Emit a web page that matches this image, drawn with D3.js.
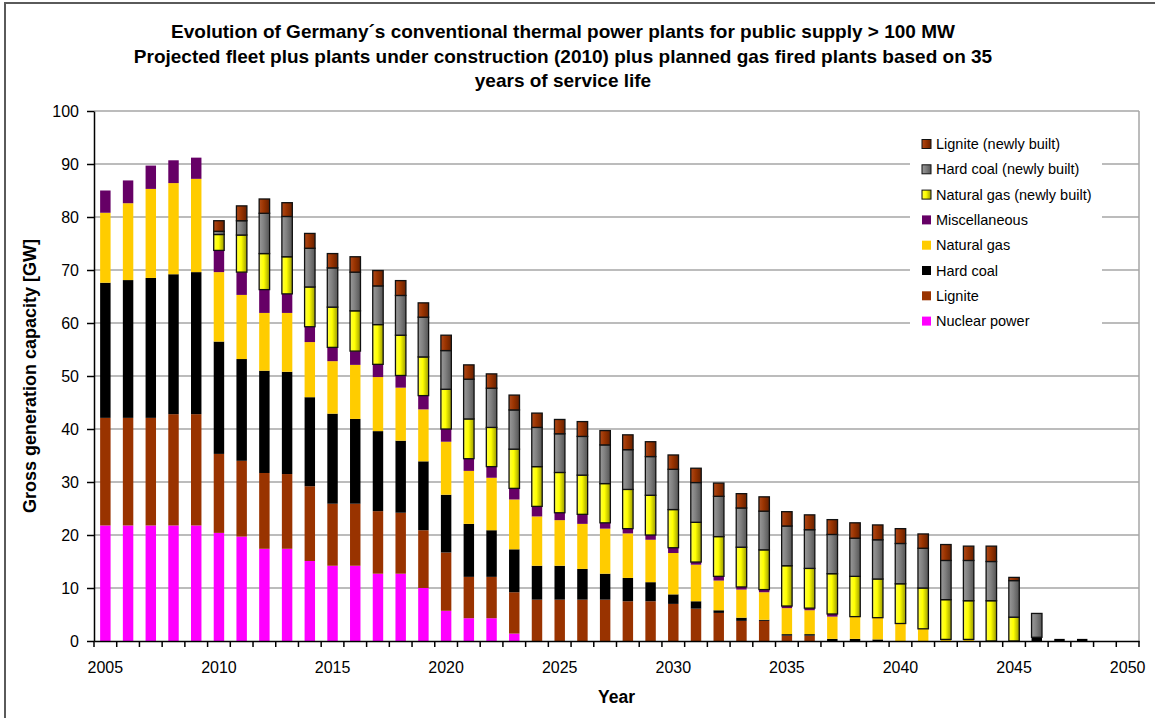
<!DOCTYPE html>
<html>
<head>
<meta charset="utf-8">
<script src="https://cdn.jsdelivr.net/npm/d3@7"></script>
<style>
  body { margin: 0; background: #fff; }
  text { font-family: "Liberation Sans", Arial, sans-serif; fill: #000; }
</style>
</head>
<body>
<div id="chart"></div>
<script>
// years on the category axis
const years = d3.range(2005, 2051);

// capacities in GW, one value per year 2005..2050
const nuclear = [21.8, 21.8, 21.8, 21.8, 21.8, 20.4, 19.7, 17.4, 17.4, 15.1, 14.2, 14.2, 12.7, 12.7, 10.0, 5.7, 4.3, 4.3, 1.4, 0,
  0, 0, 0, 0, 0, 0, 0, 0, 0, 0, 0, 0, 0, 0, 0, 0, 0, 0, 0, 0, 0, 0, 0, 0, 0, 0];
const lignite = [20.3, 20.3, 20.3, 21.0, 21.0, 14.9, 14.3, 14.3, 14.1, 14.1, 11.7, 11.7, 11.8, 11.5, 10.9, 11.0, 7.8, 7.8, 7.8, 7.8,
  7.8, 7.8, 7.8, 7.5, 7.5, 7.0, 6.1, 5.3, 3.8, 3.8, 1.0, 1.0, 0, 0, 0, 0, 0, 0, 0, 0, 0, 0, 0, 0, 0, 0];
const hardCoal = [25.5, 26.0, 26.4, 26.4, 26.8, 21.2, 19.2, 19.3, 19.3, 16.8, 17.0, 16.0, 15.1, 13.6, 13.0, 10.9, 10.0, 8.8, 8.1, 6.4,
  6.4, 5.8, 4.9, 4.4, 3.6, 1.8, 1.4, 0.5, 0.6, 0.2, 0.3, 0.3, 0.4, 0.4, 0.3, 0, 0, 0, 0, 0, 0, 0.7, 0.4, 0.4, 0, 0];
const naturalGas = [13.2, 14.5, 16.8, 17.2, 17.6, 13.1, 12.1, 10.9, 11.1, 10.4, 9.9, 10.2, 10.2, 10.0, 9.8, 10.0, 10.0, 9.9, 9.4, 9.3,
  8.6, 8.5, 8.5, 8.4, 8.0, 7.8, 6.9, 5.6, 5.3, 5.2, 4.9, 4.5, 4.2, 4.2, 4.1, 3.3, 2.3, 0.3, 0.3, 0, 0, 0, 0, 0, 0, 0];
const misc = [4.2, 4.3, 4.4, 4.3, 4.0, 4.1, 4.3, 4.4, 3.6, 2.9, 2.6, 2.6, 2.4, 2.3, 2.6, 2.4, 2.3, 2.1, 2.1, 1.9,
  1.4, 1.8, 1.1, 0.9, 0.9, 1.0, 0.5, 0.8, 0.5, 0.5, 0.4, 0.4, 0.5, 0, 0, 0, 0, 0, 0, 0, 0, 0, 0, 0, 0, 0];
const gasNew = [0, 0, 0, 0, 0, 3.0, 7.0, 6.8, 7.0, 7.5, 7.6, 7.6, 7.5, 7.6, 7.3, 7.5, 7.5, 7.4, 7.4, 7.5,
  7.6, 7.4, 7.4, 7.4, 7.5, 7.2, 7.5, 7.5, 7.5, 7.5, 7.6, 7.5, 7.6, 7.6, 7.3, 7.5, 7.7, 7.5, 7.3, 7.6, 4.5, 0, 0, 0, 0, 0];
const hardCoalNew = [0, 0, 0, 0, 0, 0.6, 2.7, 7.6, 7.6, 7.3, 7.4, 7.3, 7.3, 7.5, 7.5, 7.3, 7.5, 7.4, 7.4, 7.4,
  7.3, 7.3, 7.3, 7.5, 7.3, 7.6, 7.5, 7.6, 7.4, 7.3, 7.5, 7.3, 7.4, 7.2, 7.4, 7.6, 7.5, 7.4, 7.6, 7.4, 6.9, 4.5, 0, 0, 0, 0];
const ligniteNew = [0, 0, 0, 0, 0, 2.0, 2.8, 2.7, 2.6, 2.8, 2.7, 2.9, 2.9, 2.8, 2.7, 2.9, 2.7, 2.7, 2.8, 2.7,
  2.7, 2.8, 2.7, 2.8, 2.8, 2.7, 2.7, 2.5, 2.7, 2.7, 2.7, 2.8, 2.8, 2.9, 2.8, 2.8, 2.7, 3.0, 2.7, 2.9, 0.6, 0, 0, 0, 0, 0];

const series = [
  { key: "nuclear", name: "Nuclear power", values: nuclear, color: "#ff00ff" },
  { key: "lignite", name: "Lignite", values: lignite, color: "#993300" },
  { key: "hardCoal", name: "Hard coal", values: hardCoal, color: "#000000" },
  { key: "naturalGas", name: "Natural gas", values: naturalGas, color: "#ffcc00" },
  { key: "misc", name: "Miscellaneous", values: misc, color: "#660066" },
  { key: "gasNew", name: "Natural gas (newly built)", values: gasNew, grad: ["#ffff40", "#ffff00", "#9a9a00"], outline: true },
  { key: "hardCoalNew", name: "Hard coal (newly built)", values: hardCoalNew, grad: ["#9a9a9a", "#808080", "#555555"], outline: true },
  { key: "ligniteNew", name: "Lignite (newly built)", values: ligniteNew, grad: ["#b04a1a", "#993300", "#662000"], outline: true }
];

const titleLines = [
  "Evolution of Germany\u00b4s conventional thermal power plants for public supply > 100 MW",
  "Projected fleet plus plants under construction (2010) plus planned gas fired plants based on 35",
  "years of service life"
];

const width = 1155, height = 718;
const plot = { left: 94, right: 1139, top: 111, bottom: 641 };

// table for d3.stack
const table = years.map((yr, i) => {
  const row = { year: yr };
  series.forEach(s => { row[s.key] = s.values[i]; });
  return row;
});
const stacked = d3.stack().keys(series.map(s => s.key))(table);

const svg = d3.select("#chart").append("svg")
  .attr("width", width)
  .attr("height", height);

const defs = svg.append("defs");
series.filter(s => s.grad).forEach(s => {
  const g = defs.append("linearGradient").attr("id", "grad-" + s.key)
    .attr("x1", "0%").attr("x2", "100%").attr("y1", "0%").attr("y2", "0%");
  g.append("stop").attr("offset", "0%").attr("stop-color", s.grad[0]);
  g.append("stop").attr("offset", "45%").attr("stop-color", s.grad[1]);
  g.append("stop").attr("offset", "100%").attr("stop-color", s.grad[2]);
});
const fillOf = s => s.grad ? "url(#grad-" + s.key + ")" : s.color;

// outer frame
svg.append("rect")
  .attr("x", 5).attr("y", 3).attr("width", 1170).attr("height", 740)
  .attr("fill", "#fff").attr("stroke", "#5a5a5a").attr("stroke-width", 2);

const x = d3.scaleBand()
  .domain(years)
  .range([plot.left, plot.right])
  .paddingInner(0.54)
  .paddingOuter(0.27);

const y = d3.scaleLinear()
  .domain([0, 100])
  .range([plot.bottom, plot.top]);

// gridlines
svg.append("g")
  .selectAll("line")
  .data(d3.range(10, 101, 10))
  .join("line")
  .attr("x1", plot.left).attr("x2", plot.right)
  .attr("y1", d => y(d)).attr("y2", d => y(d))
  .attr("stroke", "#a6a6a6").attr("stroke-width", 1.5);

// right border of plot area
svg.append("line")
  .attr("x1", plot.right).attr("x2", plot.right)
  .attr("y1", plot.top).attr("y2", plot.bottom)
  .attr("stroke", "#a6a6a6").attr("stroke-width", 1.5);

// bars
const layers = svg.append("g")
  .selectAll("g")
  .data(stacked)
  .join("g")
  .attr("fill", (d, i) => fillOf(series[i]))
  .attr("stroke", (d, i) => series[i].outline ? "#111" : "none")
  .attr("stroke-width", 1.3);

layers.selectAll("rect")
  .data(d => d.filter(v => v[1] - v[0] > 0))
  .join("rect")
  .attr("x", d => x(d.data.year))
  .attr("width", x.bandwidth())
  .attr("y", d => y(d[1]))
  .attr("height", d => y(d[0]) - y(d[1]));

// y axis
const yAxis = svg.append("g")
  .attr("transform", `translate(${plot.left},0)`)
  .call(d3.axisLeft(y).ticks(10).tickSize(7).tickPadding(8).tickSizeOuter(0));
yAxis.select(".domain").attr("stroke", "#000").attr("stroke-width", 1.5);
yAxis.selectAll(".tick line").attr("stroke", "#000").attr("stroke-width", 1.5);
yAxis.selectAll("text").attr("font-size", 16).style("font-family", "Liberation Sans, Arial, sans-serif");

// x axis: labels every 5 years, ticks on category boundaries
const xAxis = svg.append("g")
  .attr("transform", `translate(0,${plot.bottom})`)
  .call(d3.axisBottom(x).tickValues(years.filter(v => v % 5 === 0)).tickSize(0).tickPadding(21));
xAxis.select(".domain").attr("stroke", "#000").attr("stroke-width", 1.5);
xAxis.selectAll("text").attr("font-size", 16).style("font-family", "Liberation Sans, Arial, sans-serif");

svg.append("g")
  .selectAll("line")
  .data(d3.range(years.length + 1))
  .join("line")
  .attr("x1", i => plot.left + i * x.step())
  .attr("x2", i => plot.left + i * x.step())
  .attr("y1", plot.bottom).attr("y2", plot.bottom + 6)
  .attr("stroke", "#000").attr("stroke-width", 1.5);

// titles
svg.append("g")
  .selectAll("text")
  .data(titleLines)
  .join("text")
  .attr("x", 563)
  .attr("y", (d, i) => 38 + i * 24.5)
  .attr("text-anchor", "middle")
  .attr("font-size", 19)
  .attr("font-weight", "bold")
  .text(d => d);

svg.append("text")
  .attr("x", (plot.left + plot.right) / 2)
  .attr("y", 703)
  .attr("text-anchor", "middle")
  .attr("font-size", 17.5)
  .attr("font-weight", "bold")
  .text("Year");

svg.append("text")
  .attr("transform", `translate(36,${(plot.top + plot.bottom) / 2}) rotate(-90)`)
  .attr("text-anchor", "middle")
  .attr("font-size", 18)
  .attr("font-weight", "bold")
  .text("Gross generation capacity [GW]");

// legend
const legend = svg.append("g");
legend.append("rect")
  .attr("x", 910).attr("y", 131).attr("width", 192).attr("height", 203)
  .attr("fill", "#fff");

const items = legend.selectAll("g.item")
  .data(series.slice().reverse())
  .join("g")
  .attr("class", "item")
  .attr("transform", (d, i) => `translate(922,${144 + i * 25.3})`);

items.append("rect")
  .attr("x", 0).attr("y", -4.5).attr("width", 9).attr("height", 9)
  .attr("fill", d => fillOf(d))
  .attr("stroke", d => d.outline ? "#111" : "none")
  .attr("stroke-width", 1);

items.append("text")
  .attr("x", 14)
  .attr("dy", "0.35em")
  .attr("font-size", 14.5)
  .text(d => d.name);
</script>
</body>
</html>
